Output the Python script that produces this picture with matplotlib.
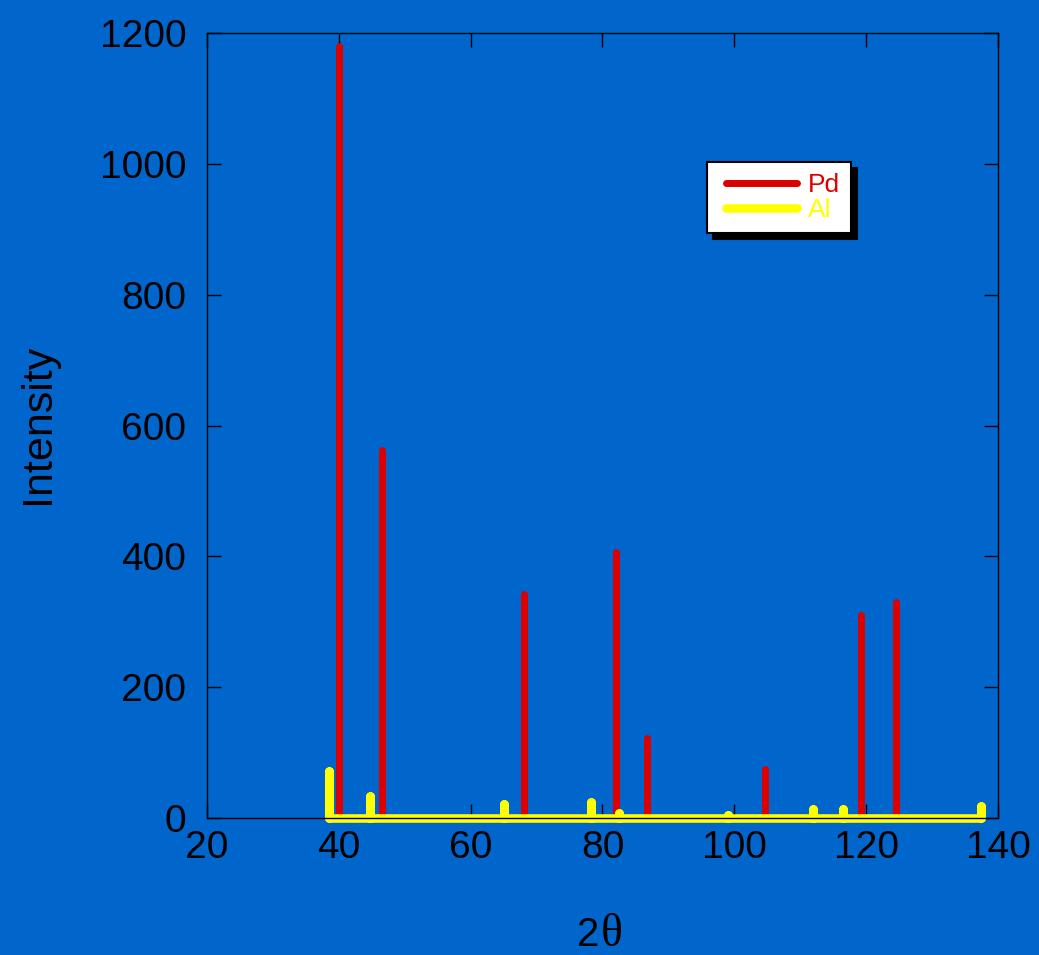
import matplotlib
matplotlib.use('Agg')
import matplotlib.pyplot as plt
from matplotlib.lines import Line2D
from matplotlib.legend_handler import HandlerLine2D

# peak positions (2theta) and intensities
pd_pos = [40.1, 46.6, 68.1, 82.1, 86.7, 104.6, 119.2, 124.6]
pd_int = [1180, 562, 342, 406, 122, 75, 310, 330]

al_pos = [38.5, 44.7, 65.1, 78.2, 82.5, 99.1, 112.0, 116.5, 137.4]
al_int = [72, 34, 21, 25, 8, 4, 14, 14, 19]

bg = '#0066CC'
red = '#DD0000'
yellow = '#FFFF00'

plt.rcParams['font.family'] = ['Liberation Sans', 'DejaVu Sans']

fig = plt.figure(figsize=(10.39, 9.55), dpi=100, facecolor=bg)
ax = fig.add_axes([0.1992, 0.1435, 0.7613, 0.8219], facecolor=bg)

# Pd sticks
ax.vlines(pd_pos, 0, pd_int, colors=red, linewidth=5.0, capstyle='round', zorder=2)

# Al pattern drawn as one polyline (baseline with spikes)
xs, ys = [], []
for x, h in zip(al_pos, al_int):
    xs += [x, x, x]
    ys += [0, h, 0]
ax.plot(xs, ys, color=yellow, linewidth=6.2, solid_capstyle='round',
        solid_joinstyle='round', clip_on=False, zorder=2.2)

ax.set_xlim(20, 140)
ax.set_ylim(0, 1200)
ax.set_xticks(range(20, 141, 20))
ax.set_yticks(range(0, 1201, 200))
ax.tick_params(direction='in', length=10, width=1, top=True, right=True,
               labelsize=28, colors='black')
ax.tick_params(axis='x', pad=9)
ax.tick_params(axis='y', pad=15)
for s in ax.spines.values():
    s.set_linewidth(1.0)
    s.set_color('black')
    s.set_zorder(3)

fig.text(0.0366, 0.556, 'Intensity', rotation=90, fontsize=31,
         ha='center', va='center', color='black')
# x label: sans "2" followed by a serif theta
fig.text(599 / 1039, 1 - 946 / 955, '2', fontsize=29, ha='right',
         va='baseline', color='black')
fig.text(601 / 1039, 1 - 946 / 955, 'θ', fontsize=33, ha='left',
         va='baseline', color='black', family=['Liberation Serif', 'DejaVu Serif'])

handles = [Line2D([], [], color=red, linewidth=5.0, solid_capstyle='round'),
           Line2D([], [], color=yellow, linewidth=6.2, solid_capstyle='round')]
leg = ax.legend(handles, ['Pd', 'Al'], loc='upper left',
                bbox_to_anchor=(707 / 1039, 1 - 162 / 955),
                bbox_transform=fig.transFigure, borderaxespad=0,
                fontsize=19, handlelength=3.0, handletextpad=0.4,
                labelspacing=0.05, borderpad=0.42, fancybox=False,
                framealpha=1, edgecolor='black',
                shadow={'ox': 4, 'oy': -4, 'color': 'black', 'alpha': 1},
                labelcolor='linecolor',
                handler_map={Line2D: HandlerLine2D(xpad=0.3)})
leg.get_frame().set_linewidth(1.5)

plt.savefig('out.png', dpi=100, facecolor=bg)
